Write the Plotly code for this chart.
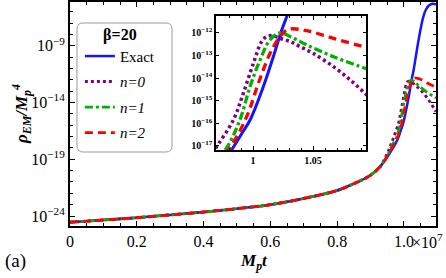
import plotly.graph_objects as go

# ---------------- data (t in units of 1e7, values as log10 of rho/Mp^4) -------------
T_BASE = [0.0, 0.1, 0.2, 0.3, 0.4, 0.5, 0.6, 0.7, 0.8, 0.85, 0.9, 0.93]
LOG_BASE = [-24.55, -24.35, -24.15, -23.9, -23.65, -23.35, -23.0, -22.45, -21.75, -21.15, -20.4, -19.6]

T_EXACT = [0.95, 0.965, 0.975, 0.982, 0.99, 0.9975, 1.0086, 1.0169, 1.0239, 1.0286,
           1.035, 1.042, 1.05, 1.058, 1.066, 1.075, 1.085, 1.096]
LOG_EXACT = [-18.8, -18.1, -17.6, -17.18, -16.5, -15.85, -14.37, -13.05, -11.87, -11.2,
             -10.05, -8.8, -7.5, -6.45, -5.8, -5.45, -5.3, -5.35]

T_N0 = [0.95, 0.96, 0.9697, 0.9836, 0.9919, 1.0003, 1.0072, 1.0114, 1.016, 1.0225,
        1.031, 1.039, 1.05, 1.067, 1.081, 1.0933, 1.096]
LOG_N0 = [-18.5, -17.8, -17.03, -15.85, -14.67, -13.34, -12.38, -12.16, -12.12, -12.24,
          -12.38, -12.6, -12.9, -13.49, -14.08, -14.67, -14.8]

T_N1 = [0.95, 0.965, 0.9767, 0.989, 0.9975, 1.0058, 1.0142, 1.0225, 1.031, 1.0447,
        1.067, 1.0933, 1.096]
LOG_N1 = [-18.7, -17.75, -17.18, -15.85, -14.37, -13.2, -12.3, -12.0, -12.16, -12.53,
          -13.05, -13.56, -13.6]

T_N2 = [0.95, 0.965, 0.9794, 0.9947, 1.0044, 1.0142, 1.0225, 1.0294, 1.0447, 1.067,
        1.0933, 1.096]
LOG_N2 = [-18.75, -17.95, -17.18, -15.7, -14.23, -12.9, -12.16, -11.84, -11.9, -12.24,
          -12.63, -12.67]

NAMES = ["Exact", "<i>n=0</i>", "<i>n=1</i>", "<i>n=2</i>"]
COLORS = ["#1414ff", "#800080", "#00b000", "#ff0000"]
DASHES = ["solid", "3px,3px", "8px,3px,3px,3px", "8px,5px"]
WIDTHS = [2.5, 3, 2.8, 2.8]

X_TICKS = [0, 0.2, 0.4, 0.6, 0.8, 1.0]
X_TICKTEXT = ["0", "0.2", "0.4", "0.6", "0.8", "1.0"]
Y_TICK_EXP = [-24, -19, -14, -9]
INSET_X_TICKS = [1.0, 1.05]
INSET_X_TICKTEXT = ["1", "1.05"]
INSET_Y_TICK_EXP = [-17, -16, -15, -14, -13, -12]

SERIF = "Liberation Serif"

tails = [(T_EXACT, LOG_EXACT), (T_N0, LOG_N0), (T_N1, LOG_N1), (T_N2, LOG_N2)]

fig = go.Figure()
for i, (tt, ll) in enumerate(tails):
    xs = T_BASE + tt
    ys = [10 ** v for v in (LOG_BASE + ll)]
    line = dict(color=COLORS[i], width=WIDTHS[i], dash=DASHES[i])
    fig.add_trace(go.Scatter(x=xs, y=ys, mode="lines", name=NAMES[i], line=line,
                             line_shape="spline", legendgroup=f"g{i}",
                             xaxis="x", yaxis="y"))
for i, (tt, ll) in enumerate(tails):
    xs = T_BASE[-2:] + tt
    ys = [10 ** v for v in (LOG_BASE[-2:] + ll)]
    line = dict(color=COLORS[i], width=WIDTHS[i] + 0.5, dash=DASHES[i])
    fig.add_trace(go.Scatter(x=xs, y=ys, mode="lines", name=NAMES[i], line=line,
                             line_shape="spline", showlegend=False,
                             xaxis="x2", yaxis="y2"))

tickfont = dict(family=SERIF, size=16, color="black")
inset_font = dict(family=SERIF, size=10, color="black", weight="bold")

fig.update_layout(
    width=446, height=278,
    margin=dict(l=70, r=10, t=2, b=52, autoexpand=False),
    paper_bgcolor="white", plot_bgcolor="white",
    showlegend=True,
    xaxis=dict(domain=[0, 1], range=[0, 1.096], tickvals=X_TICKS, ticktext=X_TICKTEXT,
               ticks="inside", ticklen=5, tickwidth=1, tickcolor="black",
               minor=dict(dtick=0.05, tick0=0, ticks="inside", ticklen=3, tickcolor="black"),
               showline=True, linewidth=2, linecolor="black", mirror="allticks",
               showgrid=False, zeroline=False, tickfont=tickfont, automargin=False),
    yaxis=dict(domain=[0, 1], type="log", range=[-24.88, -5.14],
               tickvals=[10 ** e for e in Y_TICK_EXP],
               ticktext=[f"10<sup>\u2212{-e}</sup>" for e in Y_TICK_EXP],
               ticks="inside", ticklen=5, tickwidth=1, tickcolor="black",
               minor=dict(tickvals=[10 ** e for e in range(-25, -4) if e not in Y_TICK_EXP],
                          ticks="inside", ticklen=3, tickcolor="black"),
               showline=True, linewidth=2, linecolor="black", mirror="allticks",
               showgrid=False, zeroline=False, tickfont=tickfont, automargin=False),
    xaxis2=dict(domain=[0.399, 0.809], anchor="y2", range=[0.96917, 1.09417],
                tickvals=INSET_X_TICKS, ticktext=INSET_X_TICKTEXT,
                ticks="inside", ticklen=4, tickcolor="black",
                minor=dict(dtick=0.01, tick0=1.0, ticks="inside", ticklen=2, tickcolor="black"),
                showline=True, linewidth=1.5, linecolor="black", mirror="allticks",
                showgrid=False, zeroline=False, tickfont=inset_font, automargin=False),
    yaxis2=dict(domain=[0.339, 0.9375], anchor="x2", type="log", range=[-17.18, -11.25],
                tickvals=[10 ** e for e in INSET_Y_TICK_EXP],
                ticktext=[f"10<sup>\u2212{-e}</sup>" for e in INSET_Y_TICK_EXP],
                ticks="inside", ticklen=3, tickcolor="black",
                showline=True, linewidth=1.5, linecolor="black", mirror="allticks",
                showgrid=False, zeroline=False, tickfont=inset_font, automargin=False),
    legend=dict(x=0.027, y=0.924, xanchor="left", yanchor="top",
                bgcolor="rgba(0,0,0,0)", borderwidth=0,
                font=dict(family=SERIF, size=15, color="black"),
                title=dict(text="<b>\u03b2=20</b>", side="top center",
                           font=dict(family=SERIF, size=16, color="black")),
                tracegroupgap=3),
)

# rounded legend frame (paper coords)
x0, x1 = (77 - 70) / 366, (172 - 70) / 366
y0, y1 = (226 - 152) / 224, (226 - 23) / 224
rx, ry = 6 / 366, 6 / 224
path = (f"M {x0+rx},{y1} L {x1-rx},{y1} Q {x1},{y1} {x1},{y1-ry} "
        f"L {x1},{y0+ry} Q {x1},{y0} {x1-rx},{y0} L {x0+rx},{y0} "
        f"Q {x0},{y0} {x0},{y0+ry} L {x0},{y1-ry} Q {x0},{y1} {x0+rx},{y1} Z")
fig.add_shape(type="path", path=path, xref="paper", yref="paper",
              line=dict(color="#9a9a9a", width=1), fillcolor="rgba(0,0,0,0)", layer="above")

fig.add_annotation(x=1.0, y=0, xref="x", yref="paper", yanchor="top", xanchor="left",
                   xshift=6, yshift=-3, text="\u00d710<sup>7</sup>", showarrow=False,
                   font=tickfont)
fig.add_annotation(x=(21 - 70) / 366, y=0.5, xref="paper", yref="paper", textangle=-90,
                   xanchor="center", yanchor="middle",
                   text="<b><i>\u03c1<sub>EM</sub>/M<sub>p</sub><sup>4</sup></i></b>",
                   showarrow=False, font=dict(family=SERIF, size=17, color="black"))
fig.add_annotation(x=(254 - 70) / 366, y=(226 - 262) / 224, xref="paper", yref="paper",
                   xanchor="center", yanchor="middle",
                   text="<b><i>M<sub>p</sub>t</i></b>", showarrow=False,
                   font=dict(family=SERIF, size=17, color="black"))
fig.add_annotation(x=(15 - 70) / 366, y=(226 - 261) / 224, xref="paper", yref="paper",
                   xanchor="center", yanchor="middle",
                   text="(a)", showarrow=False,
                   font=dict(family=SERIF, size=19, color="black"))

fig.write_html("out.html", config={"displayModeBar": False},
               post_script="document.body.style.margin='0';document.body.style.overflow='hidden';")
